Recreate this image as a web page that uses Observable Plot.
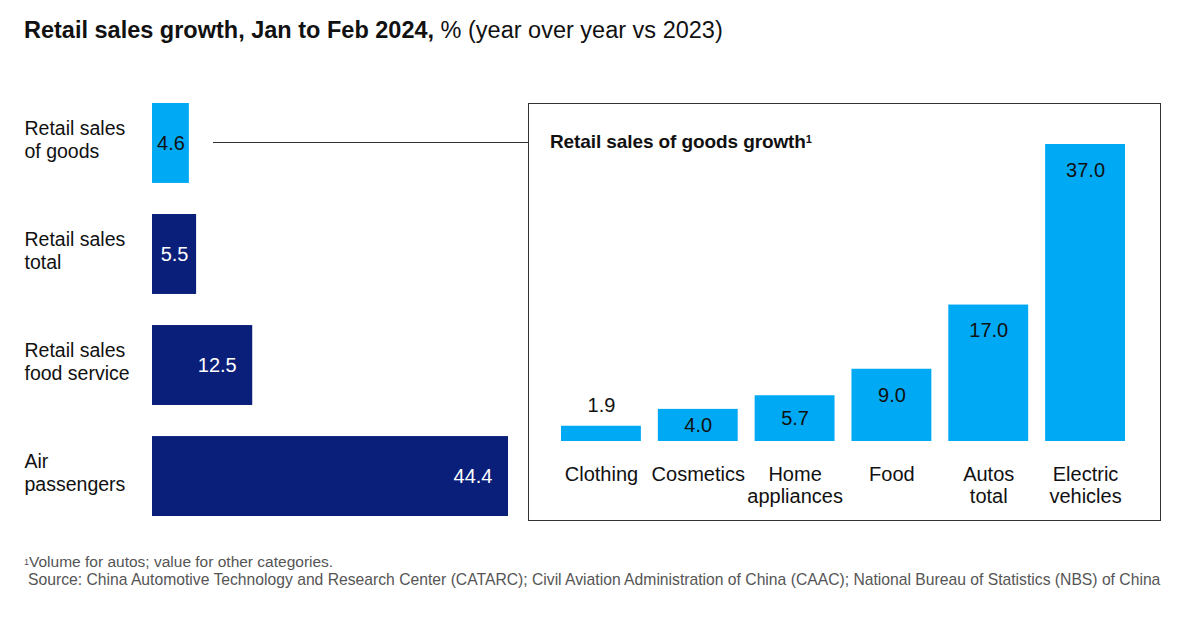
<!DOCTYPE html>
<html><head><meta charset="utf-8">
<script src="https://cdn.jsdelivr.net/npm/d3@7"></script>
<script src="https://cdn.jsdelivr.net/npm/@observablehq/plot@0.6"></script>
<style>
body{margin:0;background:#fff;font-family:"Liberation Sans",Arial,sans-serif;color:#111;}
#wrap{position:relative;width:1200px;height:626px;overflow:hidden;background:#fff;}
#title{position:absolute;left:24px;top:16px;font-size:23.5px;line-height:28px;white-space:nowrap;}
#title b{font-weight:700;}
#left{position:absolute;left:0;top:90px;}
#connector{position:absolute;left:213px;top:142px;width:315px;height:1px;background:#333;}
#box{position:absolute;left:528px;top:103px;width:633px;height:418px;border:1px solid #333;box-sizing:border-box;}
#boxtitle{position:absolute;left:21px;top:26px;font-size:19px;line-height:24px;font-weight:700;white-space:nowrap;letter-spacing:-0.1px;}
#boxtitle sup{font-size:11px;vertical-align:top;position:relative;top:-3px;}
#right{position:absolute;left:0;top:0;}
#note1{position:absolute;left:24px;top:553px;font-size:15.5px;line-height:18px;color:#555;white-space:nowrap;}
#note1 sup{font-size:9px;vertical-align:top;}
#note2{position:absolute;left:28px;top:571px;font-size:15.7px;line-height:18px;color:#555;white-space:nowrap;}
svg{overflow:visible;}
</style></head><body>
<div id="wrap">
  <div id="title"><b>Retail sales growth, Jan to Feb 2024,</b> % (year over year vs 2023)</div>
  <div id="left"></div>
  <div id="connector"></div>
  <div id="box"><div id="right"></div><div id="boxtitle">Retail sales of goods growth<sup>1</sup></div></div>
  <div id="note1"><sup>1</sup>Volume for autos; value for other categories.</div>
  <div id="note2">Source: China Automotive Technology and Research Center (CATARC); Civil Aviation Administration of China (CAAC); National Bureau of Statistics (NBS) of China</div>
</div>
<script>
// ---- data ----
const leftCategories = ["Retail sales\nof goods", "Retail sales\ntotal", "Retail sales\nfood service", "Air\npassengers"];
const leftValues = [4.6, 5.5, 12.5, 44.4];
const leftGroups = ["goods", "other", "other", "other"];

const rightCategories = ["Clothing", "Cosmetics", "Home\nappliances", "Food", "Autos\ntotal", "Electric\nvehicles"];
const rightValues = [1.9, 4.0, 5.7, 9.0, 17.0, 37.0];

const LIGHT = "#00A9F4", NAVY = "#0A1F7A";
const FONT = "'Liberation Sans', Arial, sans-serif";

const left = leftCategories.map((name, i) => ({name, value: leftValues[i], group: leftGroups[i]}));
const right = rightCategories.map((name, i) => ({name, value: rightValues[i]}));
const fmt = v => v.toFixed(1);

const leftPlot = Plot.plot({
  width: 530, height: 440,
  marginTop: 13, marginBottom: 14, marginLeft: 152, marginRight: 22,
  style: {fontFamily: FONT, background: "transparent"},
  x: {domain: [0, 44.4], axis: null},
  y: {domain: leftCategories, paddingInner: 0.28, paddingOuter: 0, round: false, axis: null},
  marks: [
    Plot.barX(left, {y: "name", x: "value", fill: d => d.group === "goods" ? LIGHT : NAVY}),
    Plot.text(left, {y: "name", frameAnchor: "left", dx: -128, dy: -4, textAnchor: "start", text: "name",
      fontSize: 19.5, lineHeight: 1.18, fill: "#111"}),
    // narrow bars: value centred in the bar
    Plot.text(left.filter(d => d.value < 8), {y: "name", x: d => d.value / 2, text: d => fmt(d.value),
      fontSize: 20, fill: d => d.group === "goods" ? "#111" : "#fff"}),
    // wider bars: value right-aligned inside the bar end
    Plot.text(left.filter(d => d.value >= 8), {y: "name", x: "value", text: d => fmt(d.value), textAnchor: "end", dx: -16,
      fontSize: 20, fill: d => d.group === "goods" ? "#111" : "#fff"})
  ]
});
document.getElementById("left").appendChild(leftPlot);

const rightPlot = Plot.plot({
  width: 631, height: 416,
  marginTop: 40, marginBottom: 79, marginLeft: 32, marginRight: 35,
  style: {fontFamily: FONT, background: "transparent", color: "#111"},
  x: {domain: rightCategories, paddingInner: 0.175, paddingOuter: 0, round: false, label: null},
  y: {domain: [0, 37], axis: null},
  marks: [
    Plot.barY(right, {x: "name", y: "value", fill: LIGHT}),
    Plot.axisX({tickSize: 0, tickPadding: 24, fontSize: 20, lineHeight: 1.1, fill: "#111", label: null}),
    Plot.text(right.filter(d => d.value >= 8), {x: "name", y: "value", dy: 26, text: d => fmt(d.value), fontSize: 20, fill: "#111"}),
    Plot.text(right.filter(d => d.value >= 3 && d.value < 8), {x: "name", y: d => d.value / 2, text: d => fmt(d.value), fontSize: 20, fill: "#111"}),
    Plot.text(right.filter(d => d.value < 3), {x: "name", y: "value", dy: -21, text: d => fmt(d.value), fontSize: 20, fill: "#111"})
  ]
});
document.getElementById("right").appendChild(rightPlot);
</script>
</body></html>
